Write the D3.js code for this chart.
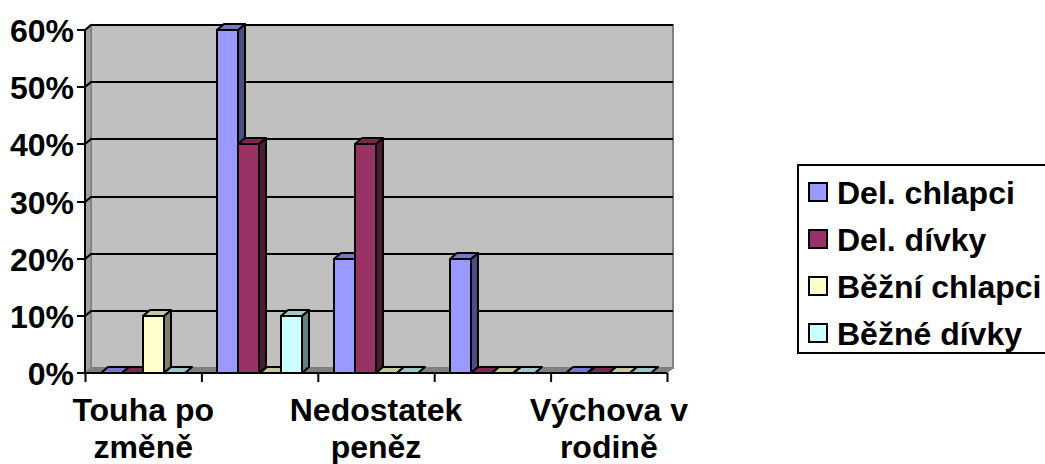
<!DOCTYPE html>
<html>
<head>
<meta charset="utf-8">
<script src="https://cdn.jsdelivr.net/npm/d3@7"></script>
<style>
  html, body { margin: 0; padding: 0; background: #ffffff; }
  svg { display: block; }
  text { font-family: "Liberation Sans", Arial, sans-serif; font-weight: bold; fill: #000; }
</style>
</head>
<body>
<svg id="chart" width="1045" height="464"></svg>
<script>
// ---- Data ----
const categories = ["Touha po změně", "", "Nedostatek peněz", "", "Výchova v rodině"];
const categoryLabelLines = [["Touha po", "změně"], [], ["Nedostatek", "peněz"], [], ["Výchova v", "rodině"]];
const seriesNames = ["Del. chlapci", "Del. dívky", "Běžní chlapci", "Běžné dívky"];
const delChlapci  = [0, 0.60, 0.20, 0.20, 0];
const delDivky    = [0, 0.40, 0.40, 0, 0];
const bezniChlapci = [0.10, 0, 0, 0, 0];
const bezneDivky  = [0, 0.10, 0, 0, 0];
const yTicks = [0, 0.1, 0.2, 0.3, 0.4, 0.5, 0.6];
const seriesColors = ["#9999FF", "#993366", "#FFFFCC", "#CCFFFF"];

const seriesValues = [delChlapci, delDivky, bezniChlapci, bezneDivky];

// ---- Layout ----
const svg = d3.select("#chart");
const X0 = 85, X1 = 667, Y0 = 373, Y1 = 30;
const WDX = 6, WDY = -5;   // wall depth offset
const BDX = 7, BDY = -6;   // bar depth offset
const FS = "32px";

const x = d3.scaleBand().domain(d3.range(categories.length)).range([X0, X1]).padding(0);
const xs = d3.scaleBand().domain(d3.range(seriesNames.length)).range([0, x.bandwidth()])
  .paddingInner(0).paddingOuter(0.75);
const y = d3.scaleLinear().domain([0, 0.6]).range([Y0, Y1]);
const yr = v => Math.round(y(v));

const poly = pts => "M" + pts.map(p => p.join(",")).join("L") + "Z";

// Back wall
svg.append("path")
  .attr("d", poly([[X0 + WDX, Y1 + WDY], [X1 + WDX, Y1 + WDY], [X1 + WDX, Y0 + WDY], [X0 + WDX, Y0 + WDY]]))
  .attr("fill", "#C0C0C0").attr("stroke", "#808080").attr("stroke-width", 2);
// Left side wall
svg.append("path")
  .attr("d", poly([[X0, Y0], [X0, Y1], [X0 + WDX, Y1 + WDY], [X0 + WDX, Y0 + WDY]]))
  .attr("fill", "#A0A0A0").attr("stroke", "#808080").attr("stroke-width", 1.5);
// Floor
svg.append("path")
  .attr("d", poly([[X0, Y0], [X1, Y0], [X1 + WDX, Y0 + WDY], [X0 + WDX, Y0 + WDY]]))
  .attr("fill", "#808080").attr("stroke", "#808080").attr("stroke-width", 1);

// Gridlines
const grid = svg.append("g");
yTicks.filter(t => t > 0).forEach(t => {
  const yy = yr(t);
  grid.append("path")
    .attr("d", `M${X0},${yy}L${X0 + WDX},${yy + WDY}L${X1 + WDX},${yy + WDY}`)
    .attr("fill", "none").attr("stroke", "#000").attr("stroke-width", 2.2);
});

// Bars
const shade = (c, k) => { const r = d3.rgb(c); return d3.rgb(r.r * k, r.g * k, r.b * k).formatHex(); };
const bars = svg.append("g");
categories.forEach((cat, ci) => {
  seriesValues.forEach((vals, si) => {
    const v = vals[ci];
    const bx = Math.round(x(ci) + xs(si)), bw = Math.round(xs.bandwidth());
    const top = yr(v), bot = yr(0);
    const col = seriesColors[si];
    const g = bars.append("g").attr("stroke", "#000").attr("stroke-width", 2).attr("stroke-linejoin", "round");
    if (v > 0) {
      g.append("path").attr("d", poly([[bx + bw, bot], [bx + bw, top], [bx + bw + BDX, top + BDY], [bx + bw + BDX, bot + BDY]]))
        .attr("fill", shade(col, 0.5));
      g.append("path").attr("d", poly([[bx, bot], [bx + bw, bot], [bx + bw, top], [bx, top]]))
        .attr("fill", col);
    }
    g.append("path").attr("d", poly([[bx, top], [bx + bw, top], [bx + bw + BDX, top + BDY], [bx + BDX, top + BDY]]))
      .attr("fill", shade(col, 0.78));
  });
});

// Axes
const yAxis = svg.append("g").attr("transform", `translate(${X0},0)`)
  .call(d3.axisLeft(y).tickValues(yTicks).tickSize(8).tickFormat(d3.format(".0%")));
yAxis.select(".domain").attr("stroke", "#000").attr("stroke-width", 2).attr("d", `M0,${Y0}V${Y1}`);
yAxis.selectAll(".tick").attr("transform", d => `translate(0,${yr(d)})`);
yAxis.selectAll(".tick line").attr("stroke", "#000").attr("stroke-width", 2);
yAxis.selectAll(".tick text").attr("x", -11).style("font-size", FS)
  .style("font-family", "'Liberation Sans', Arial, sans-serif").style("font-weight", "bold").attr("dy", "0.36em");

const xScaleLin = d3.scaleLinear().domain([0, categories.length]).range([X0, X1]);
const xAxis = svg.append("g").attr("transform", `translate(0,${Y0})`)
  .call(d3.axisBottom(xScaleLin).tickValues(d3.range(categories.length + 1)).tickSize(9).tickFormat(""));
xAxis.select(".domain").attr("stroke", "#000").attr("stroke-width", 2).attr("d", `M${X0},0H${X1}`);
xAxis.selectAll(".tick line").attr("stroke", "#000").attr("stroke-width", 2);

// Category labels (every other category shown, as in the original)
const catG = svg.append("g");
categoryLabelLines.forEach((lines, ci) => {
  lines.forEach((ln, li) => {
    catG.append("text")
      .attr("x", x(ci) + x.bandwidth() / 2)
      .attr("y", 421 + li * 37)
      .attr("text-anchor", "middle")
      .style("font-size", FS)
      .text(ln);
  });
});

// Legend
const lg = svg.append("g");
lg.append("rect").attr("x", 798).attr("y", 165).attr("width", 260).attr("height", 188)
  .attr("fill", "#fff").attr("stroke", "#000").attr("stroke-width", 2);
seriesNames.forEach((name, i) => {
  const cy = 192 + i * 47;
  lg.append("rect").attr("x", 809).attr("y", cy - 9).attr("width", 18).attr("height", 18)
    .attr("fill", seriesColors[i]).attr("stroke", "#000").attr("stroke-width", 2);
  lg.append("text").attr("x", 837).attr("y", cy).attr("dy", "0.36em")
    .style("font-size", FS).text(name);
});
</script>
</body>
</html>
